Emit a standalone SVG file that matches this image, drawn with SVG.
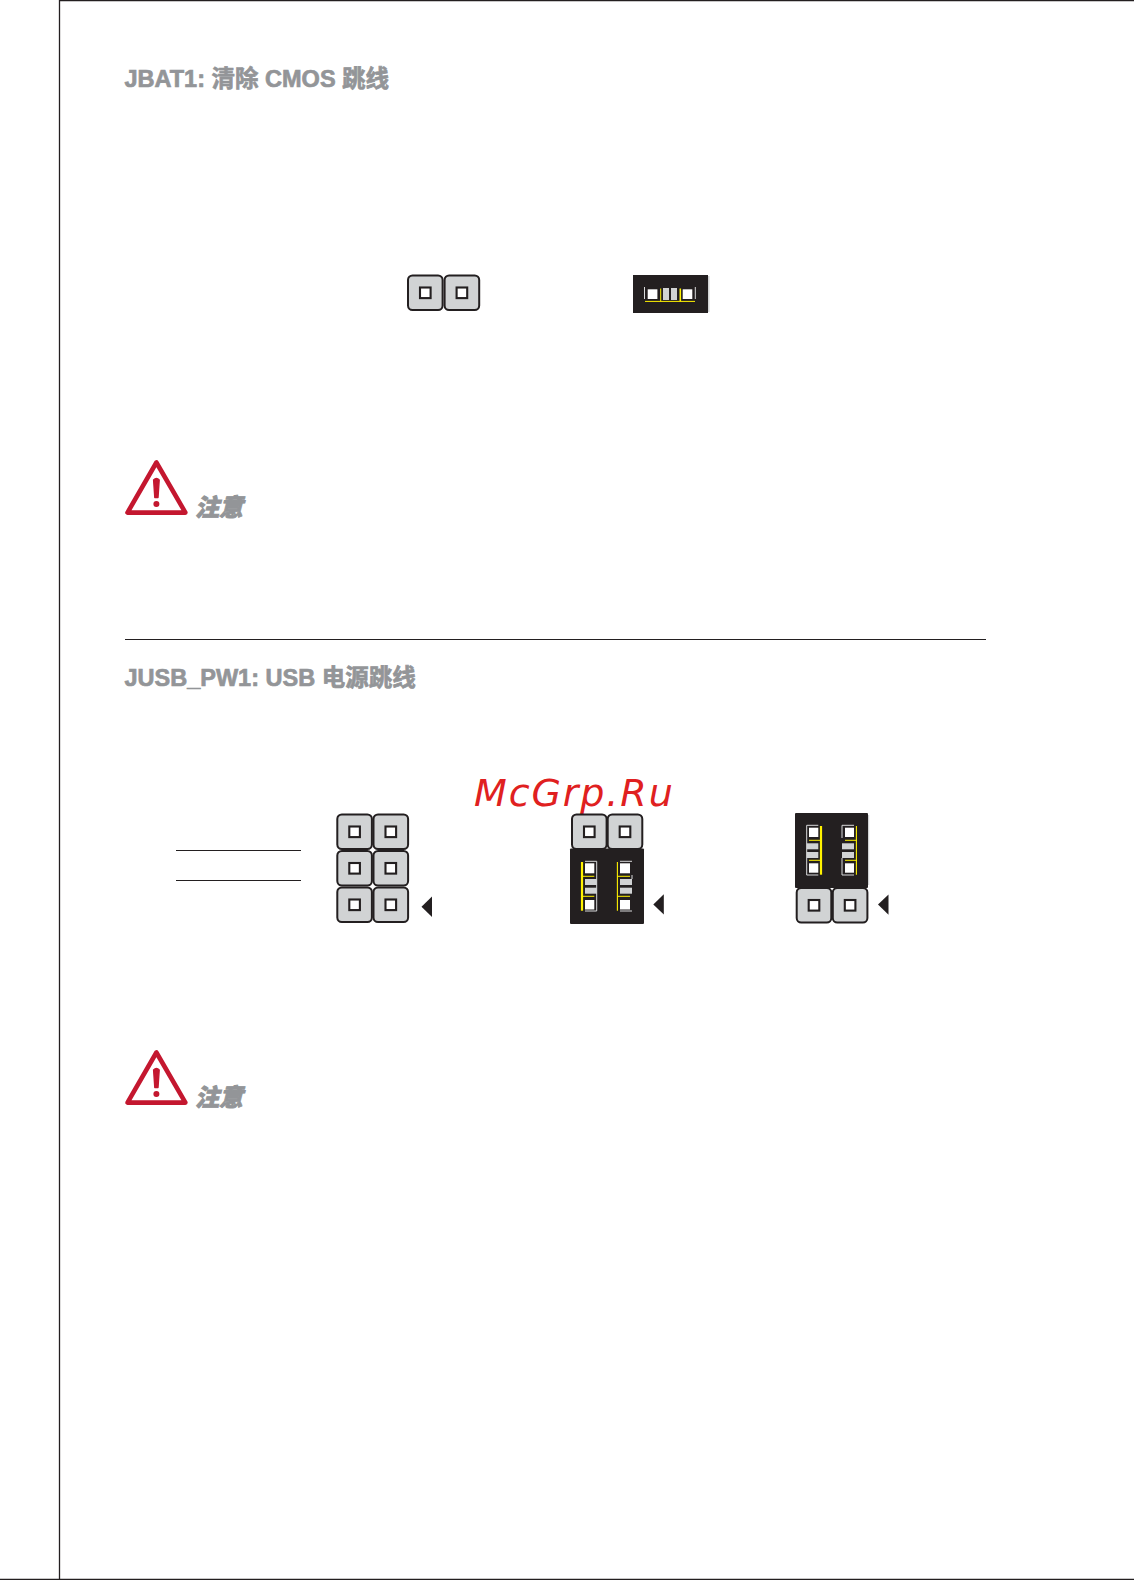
<svg xmlns="http://www.w3.org/2000/svg" xmlns:xlink="http://www.w3.org/1999/xlink" width="1134" height="1580" viewBox="0 0 1134 1580">
<style>
.h{font-family:"Liberation Sans","Noto Sans CJK SC",sans-serif;font-weight:700;font-size:23.5px;fill:#939598;stroke:#939598;stroke-width:.7px;letter-spacing:0}
.n{font-family:"Noto Sans CJK SC",sans-serif;font-weight:900;font-style:italic;font-size:24px;fill:#939598;stroke:#939598;stroke-width:.9px}
.w{font-family:"DejaVu Sans",sans-serif;font-style:oblique;font-size:38px;fill:#e02020;letter-spacing:1.9px}
.k{stroke:#231f20;fill:none}
.b{fill:#231f20}
.g{fill:#d1d3d4}
.s{fill:#fff}
.y{stroke:#fff200;fill:none}
.o{stroke:#d9dadb;fill:none;stroke-width:1}
</style>
<defs>
<g id="pin"><rect x="1" y="1" width="34.6" height="34.6" rx="4.5" fill="#d1d3d4" stroke="#231f20" stroke-width="2"/><rect x="13" y="13" width="10.6" height="10.6" fill="#fff" stroke="#231f20" stroke-width="2.1"/></g>
<polygon id="tip" points="0,10.2 10.5,0 10.5,20.4" fill="#231f20"/>
<g id="warn"><path d="M156.4,462.5 L127.5,512.6 H185.4 Z" fill="#fff" stroke="#c4172f" stroke-width="4.6" stroke-linejoin="round"/><path d="M153.6,480 Q156.4,476.8 159.2,480 L158,497.5 H154.8 Z" fill="#c4172f" stroke="#c4172f" stroke-width="1.4" stroke-linejoin="round"/><circle cx="156.4" cy="504" r="3" fill="#c4172f"/></g>
</defs>
<g id="page-frame">
<path d="M59.5 0V1580" class="k" stroke-width="1.3"/>
<path d="M59 .5H1134" class="k" stroke-width="1.3"/>
<path d="M0 1579.4H1134" class="k" stroke-width="1.3"/>
</g>
<g id="heading-jbat"><text class="h" x="124.5" y="87">JBAT1: 清除 CMOS 跳线</text></g>
<g id="jbat-open"><use xlink:href="#pin" x="407" y="274.5"/><use xlink:href="#pin" x="443.6" y="274.5"/></g>
<g id="jbat-closed">
<rect x="633" y="275" width="75" height="38" class="b"/>
<rect x="708" y="276" width="1.5" height="36" class="g"/>
<rect x="647.7" y="289.3" width="9.7" height="9.7" class="s"/><rect x="682.7" y="289.3" width="9.6" height="9.7" class="s"/>
<rect x="663" y="288" width="6" height="12" class="g"/><rect x="671" y="288" width="6" height="12" class="g"/>
<path d="M644.5 287V299M695.3 287V299" class="o"/>
<path d="M645 301.4H695" class="y" stroke-width="1"/>
<path d="M660.7 288.5V301.4" class="y" stroke-width="1"/>
<path d="M680.3 288.5V301.4" class="y" stroke-width="1.6"/>
</g>
<g id="note-jbat"><use xlink:href="#warn"/><text class="n" x="195" y="516">注意</text></g>
<g id="separator"><path d="M125 639.5H986" class="k" stroke-width="1.2"/></g>
<g id="heading-jusb"><text class="h" x="124.5" y="686">JUSB_PW1: USB 电源跳线</text></g>
<g id="watermark"><text class="w" x="474" y="805.5">McGrp.Ru</text></g>
<g id="connectors"><path d="M176 850.5H301M176 880.5H301" class="k" stroke-width="1.2"/></g>
<g id="jusb-open">
<use xlink:href="#pin" x="336.3" y="813.5"/><use xlink:href="#pin" x="372.5" y="813.5"/>
<use xlink:href="#pin" x="336.3" y="850"/><use xlink:href="#pin" x="372.5" y="850"/>
<use xlink:href="#pin" x="336.3" y="886.5"/><use xlink:href="#pin" x="372.5" y="886.5"/>
<use xlink:href="#tip" x="421.5" y="896.5"/>
</g>
<g id="jusb-lower-closed">
<use xlink:href="#pin" x="571" y="813.5"/><use xlink:href="#pin" x="606.7" y="813.5"/>
<rect x="570" y="848.5" width="74" height="75.5" rx="1" class="b"/>
<rect x="585" y="863.3" width="9.3" height="10" class="s"/><rect x="585" y="900" width="9.3" height="9.5" class="s"/>
<rect x="585" y="879" width="11.7" height="6" class="g"/><rect x="585" y="887.7" width="11.7" height="6" class="g"/>
<path d="M585 861.3H596.7V911H585" class="o"/>
<path d="M582 862V910.7" class="y" stroke-width="2.2"/>
<path d="M582 876.3H594.3M582 896.3H594.3" class="y" stroke-width="1"/>
<rect x="620" y="863.3" width="10" height="10" class="s"/><rect x="620" y="900" width="10" height="9.5" class="s"/>
<rect x="620" y="879" width="12" height="6" class="g"/><rect x="620" y="887.7" width="12" height="6" class="g"/>
<path d="M620 861.3H632M620 911H632M632 875V879" class="o"/>
<path d="M617.4 862V910.7" class="y" stroke-width="1.1"/>
<path d="M617.4 876.3H630M617.4 896.3H630" class="y" stroke-width="1"/>
<use xlink:href="#tip" x="653.3" y="894.2"/>
</g>
<g id="jusb-upper-closed">
<rect x="795" y="813" width="73" height="75" rx="1" class="b"/>
<rect x="868" y="815" width="1.2" height="70" class="g"/>
<rect x="809" y="827.7" width="9.3" height="9.3" class="s"/><rect x="809" y="863.3" width="9.3" height="9.4" class="s"/>
<rect x="806.7" y="843.3" width="11.6" height="6" class="g"/><rect x="806.7" y="852" width="11.6" height="6" class="g"/>
<path d="M818.3 825.3H806.7V875H818.3" class="o"/>
<path d="M821 826V874.7" class="y" stroke-width="2.2"/>
<path d="M809 840.3H821M809 860.3H821" class="y" stroke-width="1"/>
<rect x="845" y="827.7" width="9" height="9.3" class="s"/><rect x="845" y="863.3" width="9" height="9.4" class="s"/>
<rect x="842" y="843.3" width="12" height="6" class="g"/><rect x="842" y="852" width="12" height="6" class="g"/>
<path d="M854 825.3H842V838M842 858V875H854" class="o"/>
<path d="M856.4 826V874.7" class="y" stroke-width="1.1"/>
<path d="M845 840.3H856.4M845 860.3H856.4" class="y" stroke-width="1"/>
<use xlink:href="#pin" x="795.7" y="887"/><use xlink:href="#pin" x="831.8" y="887"/>
<use xlink:href="#tip" x="878" y="894.4"/>
</g>
<g id="note-jusb"><use xlink:href="#warn" y="590"/><text class="n" x="195" y="1106">注意</text></g>
</svg>
